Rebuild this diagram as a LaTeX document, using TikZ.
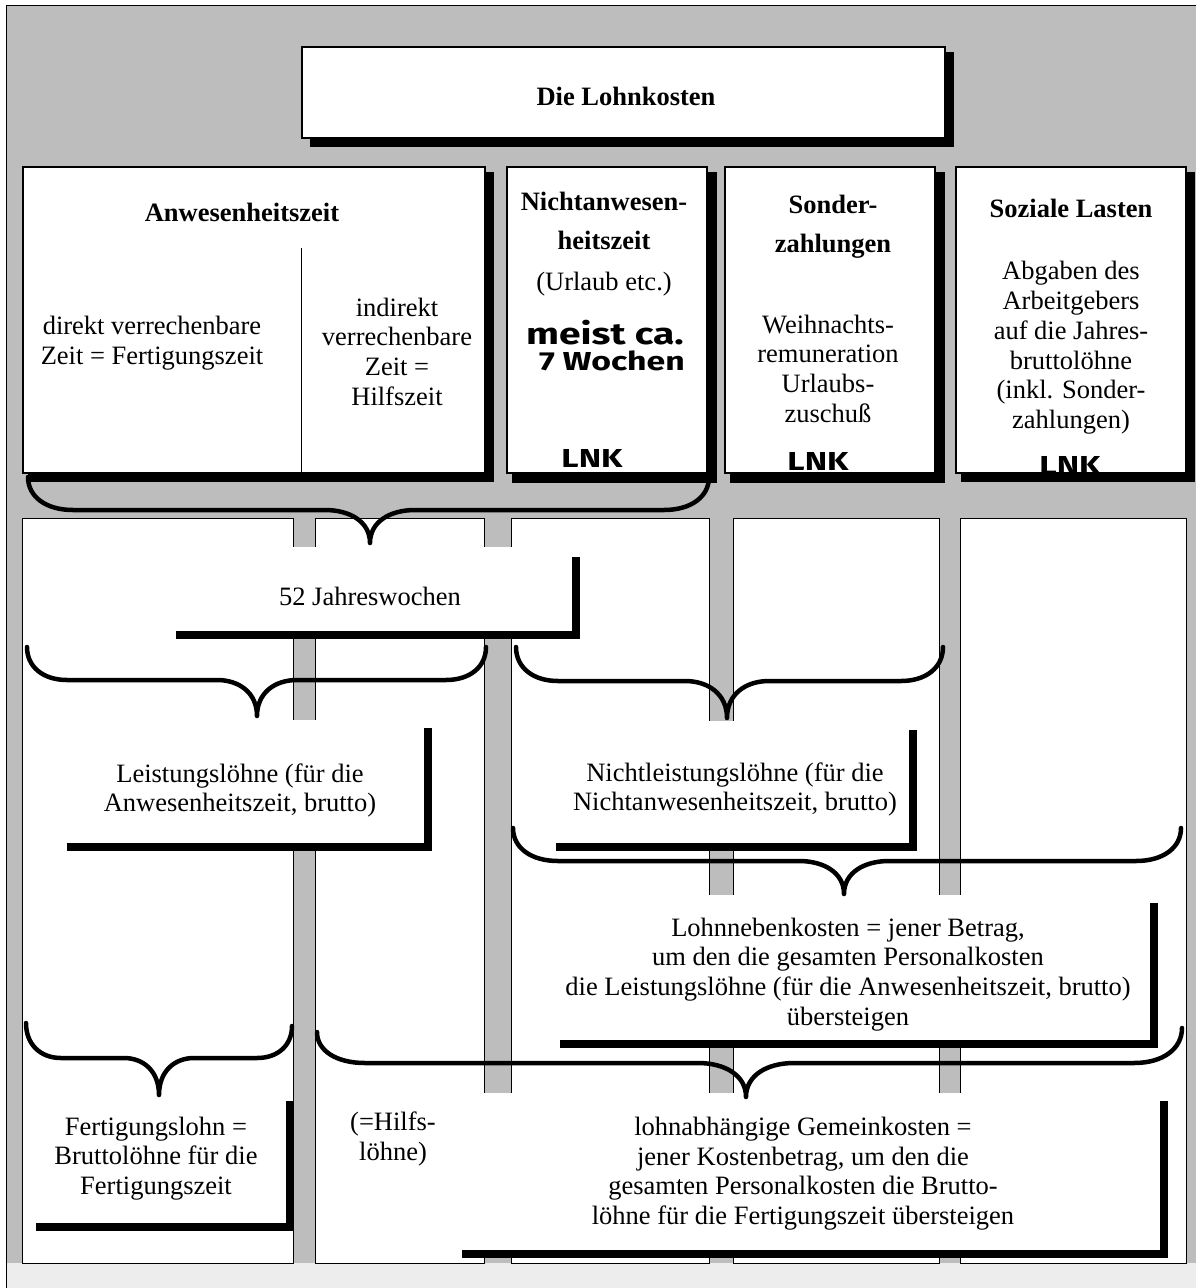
\documentclass[tikz,border=0pt]{standalone}
\usepackage{fontspec}
\setmainfont{Liberation Serif}
\newfontfamily\handfont[FakeStretch=1.3]{Fira Sans}
\definecolor{bggray}{gray}{0.74}
\definecolor{bandgray}{gray}{0.93}
\newcommand{\fsbody}{\fontsize{26.5}{29.7}\selectfont}
\newcommand{\fshead}{\fontsize{26.5}{39}\selectfont\bfseries}
% box node given by its corners
\newcommand{\rbox}[6]{%
  \node[#6, minimum width={(#4)-(#2)}, minimum height={(#5)-(#3)}] (#1)
    at ({((#2)+(#4))/2},{((#3)+(#5))/2}) {};}
% L-shaped black shadow: name, thickness, offset of right bar, offset of bottom bar
\newcommand{\boxshadow}[4]{%
  \fill[black] ([yshift=-#3]#1.north east) rectangle ([xshift=#2,yshift=-#2]#1.south east);
  \fill[black] ([xshift=#4]#1.south west) rectangle ([xshift=#2,yshift=-#2]#1.south east);}
% curly brace: name, xL, yL, xR, yR, yH, xT, yT, w
\newcommand{\cbrace}[9]{%
  \coordinate (#1L) at (#2,#3);
  \coordinate (#1R) at (#4,#5);
  \coordinate (#1T) at (#7,#8);
  \draw[bracestyle] (#1L) .. controls (#2,{#3+0.6*(#6-#3)}) and ({#2+0.4*#9},#6) .. ({#2+#9},#6)
    -- ({#7-#9},#6) .. controls ({#7-0.45*#9},#6) and (#7,{#6+0.35*(#8-#6)}) .. (#1T)
    .. controls (#7,{#6+0.35*(#8-#6)}) and ({#7+0.45*#9},#6) .. ({#7+#9},#6)
    -- ({#4-#9},#6) .. controls ({#4-0.4*#9},#6) and (#4,{#5+0.6*(#6-#5)}) .. (#1R);}
\begin{document}
\begin{tikzpicture}[x=1pt,y=-1pt,
  panel/.style={draw=black,line width=1pt,fill=white,inner sep=0pt,outer sep=0pt},
  hbox/.style={draw=black,line width=1.5pt,fill=white,inner sep=0pt,outer sep=0pt},
  wbox/.style={fill=white,draw=none,inner sep=0pt,outer sep=0pt},
  txt/.style={font=\fsbody,align=center,inner sep=0pt,
    execute at begin node=\strut,execute at end node=\strut},
  hdr/.style={font=\fshead,align=center,inner sep=0pt,
    execute at begin node=\strut,execute at end node=\strut},
  hand/.style={font=\handfont\bfseries\fontsize{26}{30}\selectfont,inner sep=0pt},
  handbig/.style={font=\handfont\bfseries\fontsize{30}{32}\selectfont,inner sep=0pt},
  bracestyle/.style={line width=4.5pt,line cap=round,line join=round}]
\useasboundingbox (0,0) rectangle (1196,1288);
% background
\fill[white] (0,0) rectangle (1196,1288);
\fill[bggray] (6,5) rectangle (1196,1263);
\fill[bandgray] (6,1263) rectangle (1196,1288);
\draw[line width=1pt] (6,1288) -- (6,5) -- (1196,5);

% lower columns
\rbox{pA}{22}{518}{293}{1263}{panel}
\rbox{pB}{315}{518}{484}{1263}{panel}
\rbox{pC}{511}{518}{709}{1263}{panel}
\rbox{pD}{733}{518}{939}{1263}{panel}
\rbox{pE}{960}{518}{1186}{1263}{panel}

% white boxes of the lower part
\rbox{b52}{166}{547}{572}{631}{wbox}
\boxshadow{b52}{8pt}{10pt}{10pt}
\rbox{bLeist}{57}{720}{424}{843}{wbox}
\boxshadow{bLeist}{8pt}{8pt}{10pt}
\rbox{bNLeist}{547}{721}{909}{843}{wbox}
\boxshadow{bNLeist}{8pt}{9pt}{9pt}
\rbox{bLNeb}{551}{895}{1150}{1040}{wbox}
\boxshadow{bLNeb}{8pt}{8pt}{9pt}
\rbox{bFert}{28}{1097}{286}{1223}{wbox}
\boxshadow{bFert}{8pt}{4pt}{8pt}
\rbox{bLabh}{452}{1093}{1160}{1250}{wbox}
\boxshadow{bLabh}{8pt}{8pt}{10pt}

% title and upper boxes
\rbox{bTitle}{302}{47}{945}{138}{hbox}
\boxshadow{bTitle}{9pt}{5pt}{8pt}
\rbox{bAnw}{23}{167}{485}{473}{hbox}
\boxshadow{bAnw}{9pt}{5pt}{5pt}
\rbox{bNan}{507}{167}{707}{473}{hbox}
\boxshadow{bNan}{10pt}{5pt}{5pt}
\rbox{bSon}{725}{167}{935}{473}{hbox}
\boxshadow{bSon}{10pt}{5pt}{5pt}
\rbox{bSoz}{956}{167}{1186}{473}{hbox}
\boxshadow{bSoz}{9pt}{5pt}{5pt}
\coordinate (divTop) at (301,248);
\draw[line width=1pt] (divTop) -- (divTop |- bAnw.south);

% braces
\cbrace{Ba}{28}{477}{709}{477}{510}{370}{543}{45}
\cbrace{Bb}{27}{647}{486}{647}{680}{257}{716}{40}
\cbrace{Bc}{516}{647}{943}{647}{681}{727}{718}{42}
\cbrace{Bd}{513}{828}{1181}{828}{861}{844}{894}{45}
\cbrace{Be}{26}{1023}{292}{1026}{1058}{159}{1095}{35}
\cbrace{Bf}{317}{1032}{1182}{1028}{1063}{746}{1097}{48}

% texts
\node[hdr] (tTitle) at (626,98) {Die Lohnkosten};
\node[hdr] (tAnw) at (242,214) {Anwesenheitszeit};
\node[txt] (tDir) at (152,345) {direkt verrechenbare\\Zeit = Fertigungszeit};
\node[txt] (tInd) at (397,356) {indirekt\\verrechenbare\\Zeit =\\Hilfszeit};
\node[hdr] (tNaH) at (604,227) {Nichtanwesen-\\heitszeit};
\node[txt] (tUrl) at (604,285) {(Urlaub etc.)};
\node[handbig] (tMeist) at (605,333) {meist ca.};
\node[hand] (tWochen) at (612,361) {7 Wochen};
\node[hand] (tLNKa) at (592,458) {LNK};
\node[hdr] (tSon) at (833,230) {Sonder-\\zahlungen};
\node[txt] (tWeih) at (828,373) {Weihnachts-\\remuneration\\Urlaubs-\\zuschuß};
\node[hand] (tLNKb) at (818,461) {LNK};
\node[hdr] (tSoz) at (1071,210) {Soziale Lasten};
\node[txt] (tAbg) at (1071,349.5) {Abgaben des\\Arbeitgebers\\auf die Jahres-\\bruttolöhne\\(inkl. Sonder-\\zahlungen)};
\node[hand] (tLNKc) at (1070,465) {LNK};
\node[txt] (t52) at (370,600) {52 Jahreswochen};
\node[txt] (tLeist) at (240,792) {Leistungslöhne (für die\\Anwesenheitszeit, brutto)};
\node[txt] (tNLeist) at (735,791) {Nichtleistungslöhne (für die\\Nichtanwesenheitszeit, brutto)};
\node[txt] (tLNeb) at (848,976) {Lohnnebenkosten = jener Betrag,\\um den die gesamten Personalkosten\\die Leistungslöhne (für die Anwesenheitszeit, brutto)\\übersteigen};
\node[txt] (tFert) at (156,1160) {Fertigungslohn =\\Bruttolöhne für die\\Fertigungszeit};
\node[txt] (tHilfs) at (393,1140.5) {(=Hilfs-\\löhne)};
\node[txt] (tLabh) at (803,1175.3) {lohnabhängige Gemeinkosten =\\jener Kostenbetrag, um den die\\gesamten Personalkosten die Brutto-\\löhne für die Fertigungszeit übersteigen};
\end{tikzpicture}
\end{document}
